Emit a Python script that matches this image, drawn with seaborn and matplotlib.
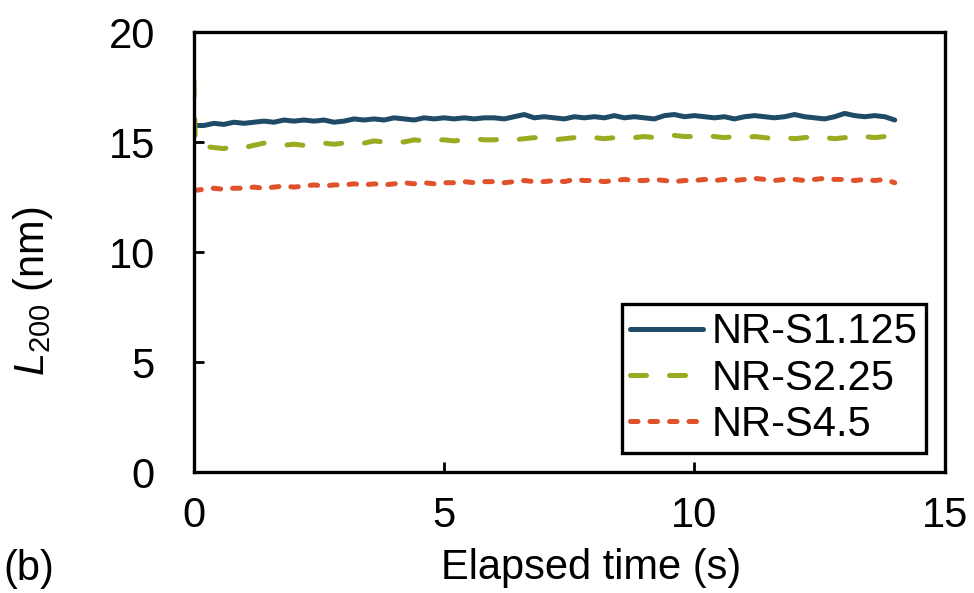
import numpy as np
import pandas as pd
import matplotlib
matplotlib.use("Agg")
import matplotlib.pyplot as plt
import seaborn as sns

# elapsed time grid (s), 0.2 s steps
time_s = [round(0.2 * i, 1) for i in range(71)]

l200_s1125 = [15.75, 15.75, 15.85, 15.80, 15.90,
              15.85, 15.90, 15.95, 15.90, 16.00,
              15.95, 16.00, 15.95, 16.00, 15.90,
              15.95, 16.05, 16.00, 16.05, 16.00,
              16.10, 16.05, 16.00, 16.10, 16.05,
              16.10, 16.05, 16.10, 16.05, 16.10,
              16.10, 16.05, 16.15, 16.25, 16.10,
              16.15, 16.10, 16.05, 16.15, 16.10,
              16.15, 16.10, 16.20, 16.10, 16.15,
              16.10, 16.05, 16.20, 16.25, 16.15,
              16.20, 16.15, 16.10, 16.15, 16.05,
              16.15, 16.20, 16.15, 16.10, 16.15,
              16.25, 16.15, 16.10, 16.05, 16.15,
              16.30, 16.20, 16.15, 16.20, 16.15,
              16.00]

# NR-S2.25 starts with a spike right at t = 0
time_s225 = [0.0, 0.03] + time_s[1:]
l200_s225 = [17.80, 14.95,
             14.80, 14.75, 14.70, 14.80,
             14.75, 14.85, 14.95, 14.90, 14.85,
             14.90, 14.85, 14.90, 14.95, 14.90,
             14.95, 15.00, 14.95, 15.05, 15.00,
             15.05, 15.00, 15.10, 15.05, 15.10,
             15.10, 15.05, 15.10, 15.15, 15.10,
             15.10, 15.15, 15.10, 15.15, 15.20,
             15.15, 15.10, 15.15, 15.20, 15.15,
             15.20, 15.15, 15.20, 15.25, 15.20,
             15.25, 15.20, 15.25, 15.30, 15.25,
             15.25, 15.30, 15.25, 15.20, 15.25,
             15.20, 15.25, 15.20, 15.15, 15.20,
             15.15, 15.20, 15.25, 15.20, 15.15,
             15.20, 15.15, 15.25, 15.20, 15.25,
             15.20]

l200_s45 = [12.80, 12.85, 12.90, 12.85, 12.90,
            12.90, 12.95, 12.90, 12.95, 13.00,
            12.95, 13.00, 13.05, 13.00, 13.05,
            13.05, 13.10, 13.05, 13.10, 13.05,
            13.10, 13.15, 13.10, 13.15, 13.10,
            13.15, 13.15, 13.20, 13.15, 13.20,
            13.20, 13.15, 13.20, 13.25, 13.20,
            13.20, 13.25, 13.20, 13.30, 13.25,
            13.25, 13.20, 13.25, 13.30, 13.25,
            13.25, 13.30, 13.25, 13.20, 13.25,
            13.25, 13.30, 13.25, 13.30, 13.25,
            13.30, 13.35, 13.30, 13.25, 13.30,
            13.30, 13.25, 13.30, 13.35, 13.30,
            13.30, 13.25, 13.30, 13.25, 13.30,
            13.15]

labels = ["NR-S1.125", "NR-S2.25", "NR-S4.5"]
colors = ["#1f4b66", "#9aaa21", "#e0522b"]

sns.set_style("white")
plt.rcParams['font.family'] = ['Liberation Sans', 'DejaVu Sans']
plt.rcParams['text.color'] = 'black'
plt.rcParams['axes.labelcolor'] = 'black'
plt.rcParams['mathtext.fontset'] = 'custom'
plt.rcParams['mathtext.it'] = 'Liberation Sans:italic'
plt.rcParams['mathtext.rm'] = 'Liberation Sans'

fs = 30
fig = plt.figure(figsize=(9.74, 5.93), dpi=100)
ax = fig.add_axes([0.199, 0.204, 0.771, 0.742])

lw = 3.6
sns.lineplot(x=time_s, y=l200_s1125, ax=ax, color=colors[0], lw=lw,
             label=labels[0], solid_capstyle='round')
sns.lineplot(x=time_s225, y=l200_s225, ax=ax, color=colors[1], lw=lw,
             label=labels[1])
sns.lineplot(x=time_s, y=l200_s45, ax=ax, color=colors[2], lw=lw,
             label=labels[2])
ax.lines[1].set_dashes([3.2, 4.6])
ax.lines[1].set_dash_capstyle('round')
ax.lines[2].set_dashes([1.5, 2.4])
ax.lines[2].set_dash_capstyle('round')

ax.set_xlim(0, 15)
ax.set_ylim(0, 20)
ax.set_xticks([0, 5, 10, 15])
ax.set_yticks([0, 5, 10, 15, 20])
ax.tick_params(direction='in', length=7, width=2, labelsize=fs, colors='black',
               left=True, bottom=True)
ax.tick_params(axis='y', pad=28)
ax.tick_params(axis='x', pad=17)
for sp in ax.spines.values():
    sp.set_color('black')
    sp.set_linewidth(2.4)

ax.set_xlabel("Elapsed time (s)", fontsize=fs, va='center', color='black')
ax.xaxis.set_label_coords(0.529, -0.218)
ax.set_ylabel("$L_{200}$ (nm)", fontsize=fs, va='center', color='black')
ax.yaxis.set_label_coords(-0.214, 0.41)
fig.text(0.003, 0.04, "(b)", fontsize=fs, ha='left', va='center', color='black')

leg = ax.legend(loc='lower right', fontsize=fs, frameon=True, fancybox=False,
                edgecolor='black', handlelength=1.75, handletextpad=0.2,
                borderpad=0.2, labelspacing=0.15, borderaxespad=0.45,
                labelcolor='black', framealpha=1)
leg.get_frame().set_linewidth(2.4)
leg.get_frame().set_edgecolor('black')
for h in leg.get_lines():
    h.set_linewidth(lw)

fig.savefig("out.png", dpi=100)
